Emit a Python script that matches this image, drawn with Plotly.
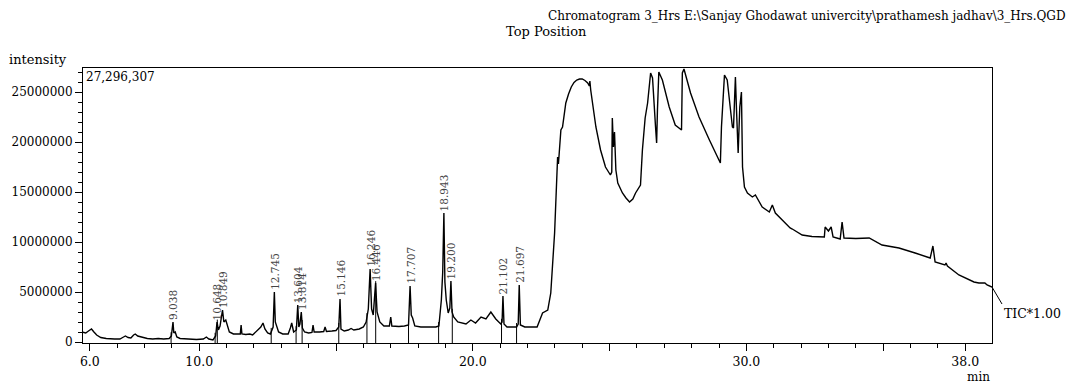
import numpy as np
import plotly.graph_objects as go

# ---------------- data (retention time in min, intensity in millions of counts) -------------
time_min = [
    5.73, 5.85, 5.95, 6.06, 6.15, 6.25, 6.40, 6.60, 6.90, 7.10, 7.20, 7.30, 7.40, 7.50, 7.60, 7.66,
    7.75, 7.90, 8.10, 8.30, 8.50, 8.70, 8.90, 8.98, 9.01, 9.04, 9.07, 9.12, 9.18, 9.30, 9.60, 9.90,
    10.15, 10.26, 10.35, 10.50, 10.60, 10.65, 10.70, 10.76, 10.85, 10.90, 10.97, 11.03, 11.10, 11.25,
    11.45, 11.50, 11.53, 11.56, 11.70, 11.85, 11.95, 12.05, 12.15, 12.25, 12.33, 12.40, 12.50, 12.60,
    12.70, 12.745, 12.78, 12.82, 12.90, 13.05, 13.25, 13.33, 13.38, 13.45, 13.55, 13.60, 13.64, 13.68,
    13.73, 13.77, 13.85, 14.00, 14.12, 14.16, 14.20, 14.40, 14.55, 14.60, 14.65, 14.85, 15.00, 15.10,
    15.146, 15.18, 15.30, 15.45, 15.55, 15.65, 15.85, 16.00, 16.10, 16.18, 16.246, 16.30, 16.36,
    16.446, 16.50, 16.60, 16.75, 16.95, 17.00, 17.04, 17.30, 17.50, 17.65, 17.707, 17.75, 17.80,
    17.88, 18.10, 18.40, 18.65, 18.76, 18.85, 18.90, 18.943, 18.98, 19.03, 19.10, 19.16, 19.20,
    19.24, 19.30, 19.45, 19.75, 19.93, 20.10, 20.30, 20.48, 20.66, 20.84, 21.02, 21.07, 21.102,
    21.14, 21.25, 21.60, 21.66, 21.697, 21.74, 21.90, 22.35, 22.45, 22.55, 22.74, 22.85, 22.99,
    23.05, 23.10, 23.13, 23.22, 23.28, 23.40, 23.50, 23.60, 23.70, 23.80, 23.90, 24.00, 24.10,
    24.20, 24.26, 24.28, 24.31, 24.40, 24.50, 24.67, 24.85, 25.03, 25.08, 25.10, 25.14, 25.18,
    25.23, 25.30, 25.47, 25.60, 25.73, 25.85, 25.95, 26.13, 26.20, 26.30, 26.39, 26.50, 26.57,
    26.68, 26.72, 26.75, 26.80, 26.93, 27.18, 27.40, 27.63, 27.66, 27.72, 27.96, 28.27, 28.65,
    29.05, 29.09, 29.20, 29.30, 29.49, 29.53, 29.60, 29.64, 29.70, 29.76, 29.82, 29.86, 29.93,
    30.04, 30.22, 30.33, 30.58, 30.84, 30.95, 31.06, 31.31, 31.60, 31.68, 32.04, 32.40, 32.85,
    32.88, 33.00, 33.05, 33.10, 33.17, 33.43, 33.50, 33.57, 34.00, 34.49, 34.96, 35.58, 36.17,
    36.72, 36.82, 36.90, 37.26, 37.30, 37.35, 37.77, 38.32, 38.50, 38.72, 38.80, 38.98,
]
intensity_m = [
    1.00, 0.90, 1.10, 1.30, 1.00, 0.70, 0.45, 0.35, 0.30, 0.30, 0.45, 0.60, 0.45, 0.40, 0.70, 0.80,
    0.60, 0.50, 0.35, 0.30, 0.35, 0.30, 0.35, 0.60, 1.20, 2.00, 0.90, 1.00, 0.50, 0.35, 0.30, 0.25,
    0.30, 0.50, 0.30, 0.20, 0.60, 2.00, 1.20, 1.60, 3.20, 2.00, 2.20, 1.50, 1.00, 0.80,
    0.75, 0.80, 1.70, 0.80, 0.75, 0.80, 0.70, 1.00, 1.20, 1.50, 1.90, 1.30, 0.90, 0.80,
    1.50, 5.00, 2.00, 1.60, 1.00, 0.80, 0.80, 1.40, 1.90, 1.00, 1.20, 3.70, 1.50, 1.80,
    3.00, 1.40, 1.00, 0.90, 0.95, 1.70, 1.00, 1.00, 1.05, 1.50, 1.05, 1.10, 1.15, 1.50,
    4.30, 1.30, 1.10, 1.20, 1.35, 1.20, 1.30, 1.50, 2.00, 3.30, 7.30, 3.30, 2.70,
    5.90, 3.00, 2.00, 1.60, 1.60, 2.50, 1.60, 1.55, 1.60, 1.70, 5.60, 2.70, 2.40,
    1.60, 1.50, 1.50, 1.50, 1.60, 4.20, 7.00, 12.90, 6.00, 4.20, 2.90, 3.40, 6.10,
    3.00, 2.50, 2.00, 1.80, 2.20, 1.90, 2.50, 2.30, 3.00, 2.30, 1.80, 2.00, 4.60,
    1.80, 1.50, 1.50, 1.80, 5.70, 1.70, 1.50, 1.50, 2.20, 2.90, 3.20, 4.90, 10.90,
    16.20, 18.50, 17.80, 21.20, 21.50, 23.90, 24.80, 25.50, 25.95, 26.20, 26.30, 26.30, 26.15,
    25.90, 25.60, 26.10, 25.20, 23.60, 21.50, 19.20, 17.50, 16.70, 17.00, 22.40, 19.50, 21.00,
    17.20, 15.90, 14.90, 14.40, 14.00, 14.30, 14.90, 15.70, 19.20, 22.40, 23.90, 26.90, 26.40,
    21.50, 19.90, 23.20, 27.00, 26.20, 23.50, 21.70, 21.20, 26.90, 27.296307, 24.90, 22.50, 20.20,
    17.90, 21.50, 26.70, 26.20, 21.50, 21.40, 26.50, 23.20, 18.90, 23.50, 25.00, 17.50, 15.50,
    14.90, 14.50, 14.70, 13.50, 13.00, 13.70, 12.90, 12.20, 11.40, 11.30, 10.70, 10.55, 10.50,
    11.50, 11.10, 11.30, 11.50, 10.50, 10.30, 12.00, 10.40, 10.35, 10.40, 9.70, 9.40, 8.90,
    8.40, 9.60, 8.00, 7.70, 7.90, 7.60, 6.70, 6.00, 5.90, 5.90, 5.70, 5.50,
]

peak_labels = ["9.038", "10.648", "10.849", "12.745", "13.604", "13.814", "15.146", "16.246",
               "16.446", "17.707", "18.943", "19.200", "21.102", "21.697"]
peak_times = [9.038, 10.648, 10.849, 12.745, 13.604, 13.735, 15.146, 16.246,
              16.446, 17.707, 18.943, 19.200, 21.102, 21.697]
peak_heights_m = [2.0, 2.0, 3.2, 5.0, 3.7, 3.0, 4.3, 7.3, 5.9, 5.6, 12.9, 6.1, 4.6, 5.7]

# integration start/end markers (min)
marker_times = [8.97, 10.58, 10.66, 12.63, 13.54, 13.76, 15.10, 16.13, 16.45, 17.65,
                18.75, 19.25, 21.05, 21.60]

x_tick_vals = [6, 10, 15, 20, 25, 30, 35, 38]
x_tick_text = ["6.0", "10.0", "", "20.0", "", "30.0", "", "38.0"]
y_tick_vals = [0, 5000000, 10000000, 15000000, 20000000, 25000000]
y_tick_text = ["0", "5000000", "10000000", "15000000", "20000000", "25000000"]

max_intensity = 27296307
title_text = "Chromatogram 3_Hrs E:\\Sanjay Ghodawat univercity\\prathamesh jadhav\\3_Hrs.QGD"

# ---------------- figure ----------------
W, H = 1070, 385
ML, MR, MT, MB = 80, 78, 68, 42
PW, PH = W - ML - MR, H - MT - MB
FONT = "DejaVu Serif, serif"

def px_x(p):
    return (p - ML) / PW

def px_y(p):
    return (H - MB - p) / PH

t = np.array(time_min)
inten = np.array(intensity_m) * 1e6

fig = go.Figure()
fig.add_trace(go.Scatter(x=t, y=inten, mode="lines",
                         line=dict(color="black", width=1.4), hoverinfo="skip",
                         showlegend=False))

# integration markers: short vertical segments through the baseline
mx, my = [], []
for mt in marker_times:
    base = float(np.interp(mt, t, inten))
    mx += [mt, mt, None]
    my += [base + 0.4e6, -0.3e6, None]
fig.add_trace(go.Scatter(x=mx, y=my, mode="lines", line=dict(color="black", width=1),
                         hoverinfo="skip", showlegend=False))

for lab, pt, ph in zip(peak_labels, peak_times, peak_heights_m):
    fig.add_annotation(x=pt, y=ph * 1e6, xref="x", yref="y", text=lab, textangle=-90,
                       showarrow=False, xanchor="center", yanchor="bottom",
                       font=dict(family=FONT, size=10.5, color="#444444"))

# header texts
fig.add_annotation(x=px_x(1068), y=px_y(16), xref="paper", yref="paper", text=title_text,
                   showarrow=False, xanchor="right", yanchor="middle",
                   font=dict(family=FONT, size=12, color="black"))
fig.add_annotation(x=px_x(502), y=px_y(31), xref="paper", yref="paper", text="Top Position",
                   showarrow=False, xanchor="left", yanchor="middle",
                   font=dict(family=FONT, size=13, color="black"))
fig.add_annotation(x=px_x(4), y=px_y(59), xref="paper", yref="paper", text="intensity",
                   showarrow=False, xanchor="left", yanchor="middle",
                   font=dict(family=FONT, size=13, color="black"))
fig.add_annotation(x=px_x(81), y=px_y(77), xref="paper", yref="paper",
                   text=f"{max_intensity:,}", showarrow=False, xanchor="left", yanchor="middle",
                   font=dict(family=FONT, size=12, color="black"))
fig.add_annotation(x=1.0, y=px_y(377), xref="paper", yref="paper", text="min",
                   showarrow=False, xanchor="right", yanchor="middle",
                   font=dict(family=FONT, size=12, color="black"))
fig.add_annotation(x=time_min[-1], y=intensity_m[-1] * 1e6, xref="x", yref="y",
                   text="TIC*1.00", showarrow=True, arrowhead=0, arrowwidth=1,
                   arrowcolor="black", ax=10, ay=17, xanchor="left", yanchor="top",
                   font=dict(family=FONT, size=12.5, color="black"))

fig.update_layout(
    width=W, height=H,
    margin=dict(l=ML, r=MR, t=MT, b=MB),
    paper_bgcolor="white", plot_bgcolor="white",
    showlegend=False,
    font=dict(family=FONT, size=12, color="black"),
)
fig.update_xaxes(range=[5.75, 38.98], showgrid=False, zeroline=False,
                 showline=True, linecolor="black", linewidth=1, mirror=True,
                 tickmode="array", tickvals=x_tick_vals, ticktext=x_tick_text,
                 ticks="outside", ticklen=7, tickcolor="black", tickwidth=1,
                 tickfont=dict(family=FONT, size=12.5, color="black"),
                 minor=dict(dtick=1, tick0=0, ticks="outside", ticklen=4,
                            tickcolor="black", showgrid=False))
fig.update_yaxes(range=[-0.1e6, 27.4e6], showgrid=False, zeroline=False,
                 showline=True, linecolor="black", linewidth=1, mirror=True,
                 tickmode="array", tickvals=y_tick_vals, ticktext=y_tick_text,
                 ticks="outside", ticklen=7, tickcolor="black", tickwidth=1,
                 tickfont=dict(family=FONT, size=12, color="black"),
                 minor=dict(dtick=1e6, tick0=0, ticks="outside", ticklen=4,
                            tickcolor="black", showgrid=False))

fig.write_html(
    "out.html",
    config={"displayModeBar": False},
    post_script="document.body.style.margin='0';document.body.style.overflow='hidden';",
)
